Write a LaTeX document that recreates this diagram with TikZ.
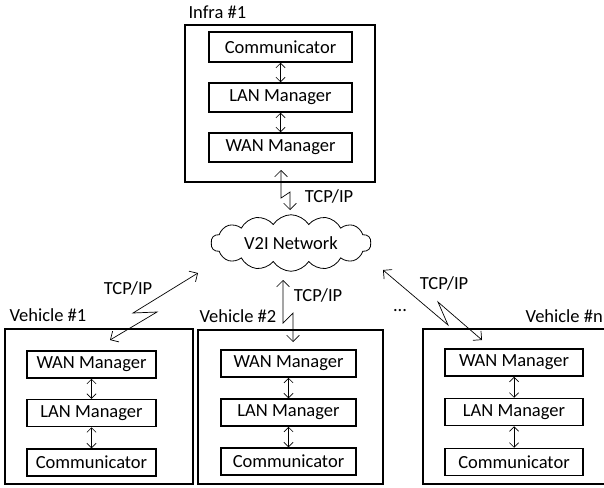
\documentclass[tikz,border=0pt]{standalone}
\usepackage{fontspec}
\setmainfont{Carlito}
\usetikzlibrary{arrows.meta,positioning,shapes.symbols}

\begin{document}
\begin{tikzpicture}[x=1pt, y=-1pt, every node/.style={font=\fontsize{18.5}{20}\selectfont},
    host/.style={draw, line width=1.5pt, inner sep=0},
    module/.style={draw, line width=1.5pt, inner sep=0, minimum height=27pt},
    link/.style={{Straight Barb[length=2.2mm]}-{Straight Barb[length=2.2mm]}, line width=0.7pt},
    inlink/.style={{Straight Barb[length=1.6mm]}-{Straight Barb[length=1.6mm]}, line width=0.7pt}]
  \useasboundingbox (0,0) rectangle (604,487);
  \clip (0,0) rectangle (604,487);

  % infra
  \node[host, minimum width=190pt, minimum height=157pt] (infra) at (280,103.5) {};
  \node[anchor=west] (infralbl) at (185,12) {Infra \#1};
  \node[module, minimum width=143pt, minimum height=30pt] (ic) at (280.5,47) {Communicator};
  \node[module, minimum width=143pt, minimum height=29pt] (il) at (280.5,97.5) {LAN Manager};
  \node[module, minimum width=143pt, minimum height=29pt] (iw) at (280.5,147.5) {WAN Manager};
  \draw[inlink] (ic) -- (il);
  \draw[inlink] (il) -- (iw);

  % network
  \node[cloud, draw, line width=0.8pt, cloud puffs=14, cloud puff arc=115, aspect=3.2,
        minimum width=160pt, minimum height=54pt, inner sep=0] (net) at (291,243) {V2I Network};

  % vehicles
  \node[host, minimum width=188pt, minimum height=155pt] (v1) at (99,406.5) {};
  \node[anchor=west] (v1lbl) at (6,315) {Vehicle \#1};
  \node[module, minimum width=129pt] (v1w) at (91.5,364.5) {WAN Manager};
  \node[module, minimum width=129pt] (v1l) at (91.5,413) {LAN Manager};
  \node[module, minimum width=129pt] (v1c) at (91.5,462.5) {Communicator};
  \draw[inlink] (v1w) -- (v1l);
  \draw[inlink] (v1l) -- (v1c);

  \node[host, minimum width=185pt, minimum height=154pt] (v2) at (290.5,407) {};
  \node[anchor=west] (v2lbl) at (196,316) {Vehicle \#2};
  \node[module, minimum width=135pt] (v2w) at (288.5,363.5) {WAN Manager};
  \node[module, minimum width=135pt] (v2l) at (288.5,412.5) {LAN Manager};
  \node[module, minimum width=135pt] (v2c) at (288.5,461.5) {Communicator};
  \draw[inlink] (v2w) -- (v2l);
  \draw[inlink] (v2l) -- (v2c);

  \node (dots) at (400,311) {...};

  \node[host, minimum width=190pt, minimum height=155pt] (vn) at (518,406.5) {};
  \node[anchor=east, inner sep=1pt] (vnlbl) at (604,316) {Vehicle \#n};
  \node[module, minimum width=138pt] (vnw) at (514,362.5) {WAN Manager};
  \node[module, minimum width=138pt] (vnl) at (514,412) {LAN Manager};
  \node[module, minimum width=138pt] (vnc) at (514,462) {Communicator};
  \draw[inlink] (vnw) -- (vnl);
  \draw[inlink] (vnl) -- (vnc);

  % tcp/ip links
  \coordinate (iA) at (281,170);
  \coordinate (iB) at (290,210);
  \draw[link] (iA) -- ++(0,28) -- ++(9,-6) -- (iB);
  \node (itcp) at (329,196) {TCP/IP};

  \coordinate (v1A) at (198,273);
  \coordinate (v1B) at (110,340);
  \draw[link] (v1A) -- (133,313) -- (157,312) -- (v1B);
  \node (v1tcp) at (128,288) {TCP/IP};

  \coordinate (v2A) at (283,280);
  \coordinate (v2B) at (293,342);
  \draw[link] (v2A) -- ++(0,43) -- ++(10,-10) -- (v2B);
  \node (v2tcp) at (318,295) {TCP/IP};

  \coordinate (vnA) at (383,270);
  \coordinate (vnB) at (482,340);
  \draw[link] (vnA) -- (448,325) -- (438,302) -- (vnB);
  \node (vntcp) at (444,283) {TCP/IP};
\end{tikzpicture}
\end{document}
